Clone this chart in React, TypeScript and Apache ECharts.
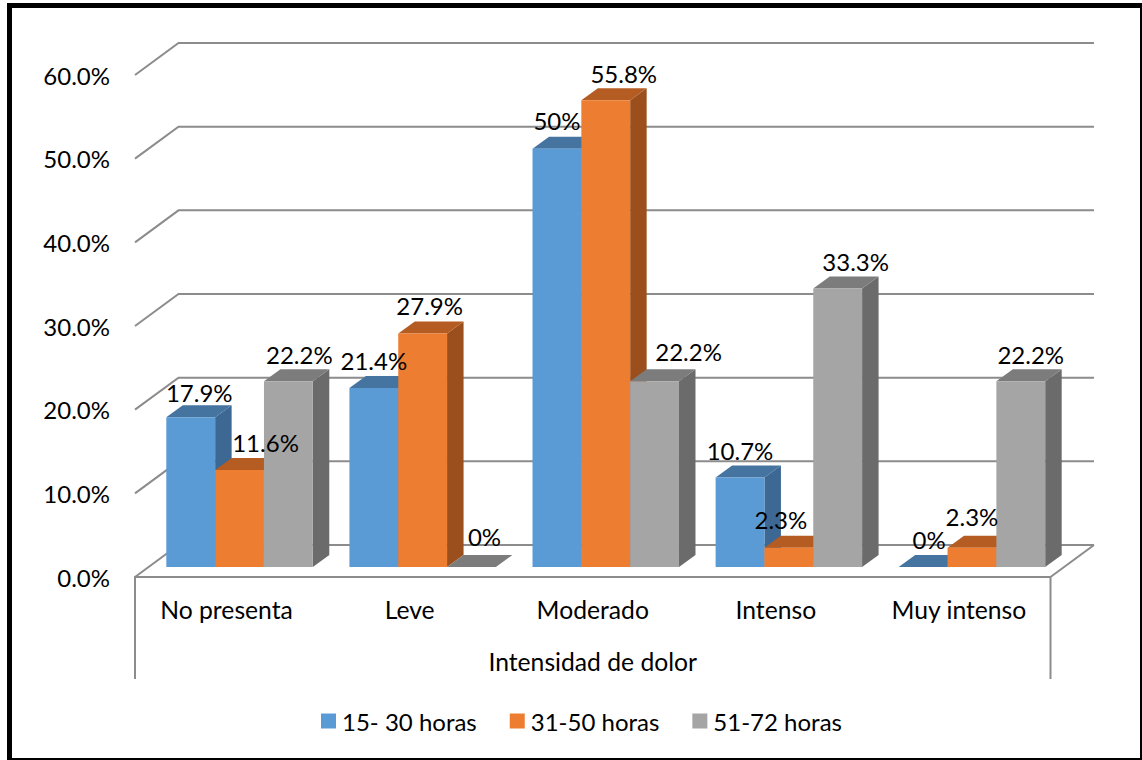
import React, { useEffect, useRef } from "react";
import * as echarts from "echarts";

const categories = ["No presenta", "Leve", "Moderado", "Intenso", "Muy intenso"];
const seriesNames = ["15- 30 horas", "31-50 horas", "51-72 horas"];
const hours15to30 = [17.9, 21.4, 50, 10.7, 0];
const hours31to50 = [11.6, 27.9, 55.8, 2.3, 2.3];
const hours51to72 = [22.2, 0, 22.2, 33.3, 22.2];
const axisTicks = [0, 10, 20, 30, 40, 50, 60];
const axisTitle = "Intensidad de dolor";

// Face colours of each extruded column: front, top, right side
const faces = [
  { front: "#5B9BD5", top: "#44749F", side: "#3C6893" },
  { front: "#ED7D31", top: "#B45C22", side: "#9A4F1C" },
  { front: "#A5A5A5", top: "#7C7C7C", side: "#6B6B6B" },
];

// Manually placed value labels, as [dx, dy] from the top centre of the column
const labelOffsets = [
  [[8.5, -25], [0, -27], [0, -28], [0, -27], [6, -28]],
  [[26, -27], [7, -28], [18, -27], [-8, -28], [0, -31]],
  [[11, -27], [13, -31], [34, -30], [18, -27], [10, -27]],
];

const FONT = "Lato";
const TICK_SIZE = 24;
const CATEGORY_SIZE = 24.7;
const LEGEND_SIZE = 24;
const GRID_LINE = "#8C8C8C";
const WALL = { x: 43.5, y: -32 };
const BAR_SHIFT = { x: 13, y: -10 };
const BAR_DEPTH = { x: 16.5, y: -12 };
const GROUP_SHARE = 0.8;
const LEGS = 102;

function barBox(api: any, s: number) {
  const i = api.value(0);
  const v = api.value(1);
  const barW = (api.size([1, 0])[0] * GROUP_SHARE) / 3;
  const [cx, yTop] = api.coord([i, v]);
  const [, yBase] = api.coord([i, 0]);
  const x0 = cx + BAR_SHIFT.x + (s - 1.5) * barW;
  return { i, v, barW, x0, x1: x0 + barW, t: yTop + BAR_SHIFT.y, b: yBase + BAR_SHIFT.y };
}

function barSeries(name: string, values: number[], s: number) {
  return {
    type: "custom",
    name,
    z: 3 + s,
    itemStyle: { color: faces[s].front },
    data: values.map((v, i) => [i, v]),
    encode: { x: 0, y: 1 },
    renderItem: (_: unknown, api: any) => {
      const { barW, x0, x1, t, b } = barBox(api, s);
      const dx = BAR_DEPTH.x;
      const dy = BAR_DEPTH.y;
      const face = faces[s];
      return {
        type: "group",
        children: [
          {
            type: "polygon",
            shape: { points: [[x1, t], [x1 + dx, t + dy], [x1 + dx, b + dy], [x1, b]] },
            style: { fill: face.side },
          },
          {
            type: "polygon",
            shape: { points: [[x0, t], [x0 + dx, t + dy], [x1 + dx, t + dy], [x1, t]] },
            style: { fill: face.top },
          },
          {
            type: "rect",
            shape: { x: x0, y: t, width: barW, height: b - t },
            style: { fill: face.front },
          },
        ],
      };
    },
  };
}

// Value labels sit in their own series so that no column can cover them
function labelSeries(values: number[], s: number) {
  return {
    type: "custom",
    name: `labels-${s}`,
    z: 10,
    silent: true,
    data: values.map((v, i) => [i, v]),
    encode: { x: 0, y: 1 },
    renderItem: (_: unknown, api: any) => {
      const { i, v, x0, x1, t } = barBox(api, s);
      const [ox, oy] = labelOffsets[s][i];
      return {
        type: "text",
        style: {
          text: `${v}%`,
          x: (x0 + x1) / 2 + ox,
          y: t + oy,
          align: "center",
          verticalAlign: "middle",
          fill: "#000",
          font: `${TICK_SIZE}px ${FONT}`,
        },
      };
    },
  };
}

// Back wall, side wall and floor outline, one entry per axis tick
const frameSeries = {
  type: "custom",
  name: "frame",
  z: 1,
  silent: true,
  data: axisTicks.map((t) => [0, t]),
  encode: { x: 0, y: 1 },
  renderItem: (_: unknown, api: any) => {
    const band = api.size([1, 0])[0];
    const v = api.value(1);
    const [cx, y] = api.coord([0, v]);
    const left = cx - band / 2;
    const right = left + band * categories.length;
    const line = { stroke: GRID_LINE, lineWidth: 2, fill: "none" };
    const children: any[] = [
      {
        type: "polyline",
        shape: { points: [[left, y], [left + WALL.x, y + WALL.y], [right + WALL.x, y + WALL.y]] },
        style: line,
      },
    ];
    if (v === 0) {
      children.push(
        {
          type: "polyline",
          shape: { points: [[left, y + LEGS], [left, y], [right, y], [right, y + LEGS]] },
          style: line,
        },
        {
          type: "line",
          shape: { x1: right, y1: y, x2: right + WALL.x, y2: y + WALL.y },
          style: line,
        },
      );
    }
    return { type: "group", children };
  },
};

export default function App() {
  const ref = useRef<HTMLDivElement>(null);

  useEffect(() => {
    const chart = echarts.init(ref.current!, undefined, { renderer: "svg" });
    chart.setOption({
      animation: false,
      backgroundColor: "#fff",
      textStyle: { fontFamily: FONT },
      grid: { left: 135, width: 915.5, top: 75, height: 502 },
      xAxis: {
        type: "category",
        data: categories,
        axisLine: { show: false },
        axisTick: { show: false },
        axisLabel: { color: "#000", fontSize: CATEGORY_SIZE, fontFamily: FONT, margin: 20 },
        name: axisTitle,
        nameLocation: "middle",
        nameGap: 72,
        nameTextStyle: { color: "#000", fontSize: CATEGORY_SIZE, fontFamily: FONT },
      },
      yAxis: {
        type: "value",
        min: 0,
        max: 60,
        interval: 10,
        axisLine: { show: false },
        axisTick: { show: false },
        splitLine: { show: false },
        axisLabel: {
          color: "#000",
          fontSize: TICK_SIZE,
          fontFamily: FONT,
          margin: 25,
          formatter: (v: number) => `${v.toFixed(1)}%`,
        },
      },
      legend: {
        data: seriesNames,
        left: 316,
        top: 704,
        itemWidth: 15,
        itemHeight: 15,
        itemGap: 33,
        icon: "rect",
        selectedMode: false,
        textStyle: { color: "#000", fontSize: LEGEND_SIZE, fontFamily: FONT, padding: [0, 0, 0, 1] },
      },
      graphic: [
        { type: "rect", shape: { x: 7, y: 3, width: 1135, height: 5 }, style: { fill: "#000" } },
        { type: "rect", shape: { x: 7, y: 3, width: 5, height: 757 }, style: { fill: "#000" } },
        { type: "rect", shape: { x: 1140, y: 3, width: 2, height: 757 }, style: { fill: "#000" } },
        { type: "rect", shape: { x: 7, y: 758, width: 1135, height: 2 }, style: { fill: "#000" } },
      ],
      series: [
        frameSeries,
        barSeries(seriesNames[0], hours15to30, 0),
        barSeries(seriesNames[1], hours31to50, 1),
        barSeries(seriesNames[2], hours51to72, 2),
        labelSeries(hours15to30, 0),
        labelSeries(hours31to50, 1),
        labelSeries(hours51to72, 2),
      ],
    });
    return () => chart.dispose();
  }, []);

  return <div ref={ref} style={{ position: "fixed", left: 0, top: 0, width: 1142, height: 760 }} />;
}
